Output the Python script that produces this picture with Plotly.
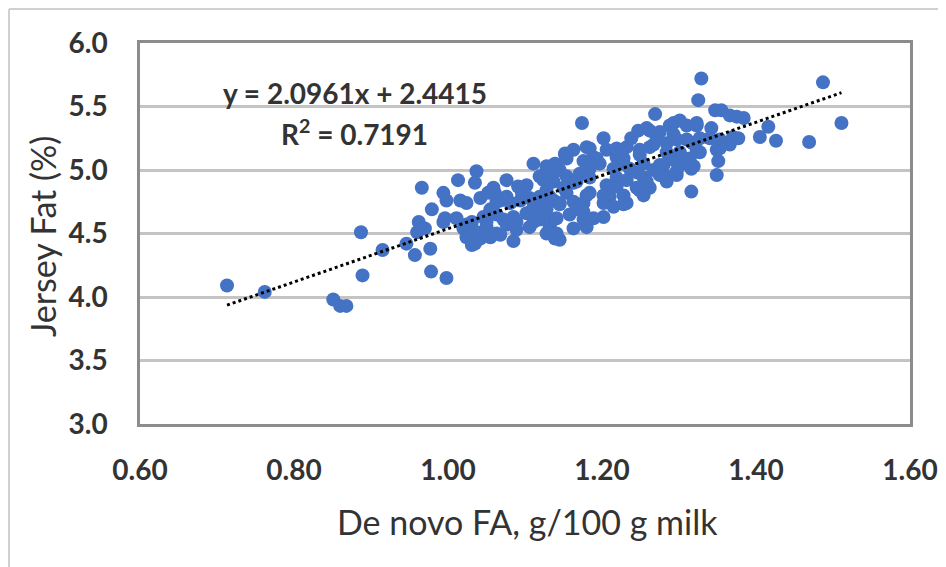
import plotly.graph_objects as go

# ---- data ----
denovo_fa = [
    0.713, 0.762, 0.851, 0.860, 0.868, 0.887, 0.889, 0.915, 0.946, 0.957, 0.960, 0.962,
    0.978, 0.998,
    0.977, 0.966, 0.970, 0.979, 0.994, 0.998, 0.994, 1.013, 1.037, 1.035, 1.016, 1.024,
    1.031, 1.020, 1.024, 1.035, 1.037, 1.046, 1.055, 1.061, 1.068, 1.076, 1.050, 1.063,
    1.055, 1.072, 1.085, 1.085, 1.081, 1.094, 1.102, 1.111, 1.119, 1.128, 1.137, 1.102,
    1.111, 1.119, 1.128, 1.137, 1.106, 1.119, 1.132, 1.139, 1.128, 1.089,
    1.174, 1.202, 1.269, 1.262, 1.271, 1.293, 1.310, 1.323, 1.163, 1.152, 1.180, 1.189,
    1.206, 1.219, 1.232, 1.238, 1.247, 1.249, 1.262, 1.284, 1.297, 1.310, 1.318, 1.128,
    1.137, 1.145, 1.124, 1.137, 1.154, 1.171, 1.184, 1.197, 1.215, 1.228, 1.236, 1.254,
    1.267, 1.280, 1.293, 1.306, 1.316, 1.284, 1.297, 1.316, 1.258, 1.249, 1.262, 1.232,
    1.219, 1.228, 1.232, 1.206, 1.210, 1.202, 1.215, 1.202, 1.184, 1.176, 1.167, 1.176,
    1.180, 1.163, 1.154, 1.145, 1.132, 1.128, 1.137, 1.141, 1.145,
    1.329, 1.487, 1.511, 1.325, 1.347, 1.355, 1.366, 1.375, 1.384, 1.416, 1.405, 1.426,
    1.469, 1.323, 1.342, 1.340, 1.353, 1.370, 1.377, 1.349, 1.366, 1.323, 1.319, 1.351,
    1.042, 1.052, 1.059, 1.063, 1.076, 1.091, 1.106, 1.011, 1.024, 1.031, 1.042, 1.050,
    1.063, 1.068, 1.076, 1.089, 1.111, 1.119, 1.124, 0.996,
    1.184, 1.219, 1.154, 1.176, 1.193, 1.228, 1.249, 1.150, 1.167, 1.184, 1.219, 1.254,
    1.145, 1.163, 1.180, 1.202, 1.245, 1.124, 1.141, 1.158, 1.176, 1.189, 1.228, 1.163,
    1.301, 1.288, 1.258, 1.275, 1.293, 1.327, 1.267, 1.284, 1.301, 1.353, 1.275, 1.314,
    1.327, 1.349, 1.275, 1.297, 1.284, 1.254, 1.246,
    1.139, 1.152, 1.096, 1.130,
]
jersey_fat = [
    4.09, 4.04, 3.98, 3.93, 3.93, 4.51, 4.17, 4.37, 4.42, 4.33, 4.51, 4.59,
    4.20, 4.15,
    4.38, 4.86, 4.54, 4.69, 4.82, 4.76, 4.59, 4.92, 4.99, 4.90, 4.76, 4.74,
    4.59, 4.54, 4.47, 4.42, 4.51, 4.63, 4.69, 4.82, 4.76, 4.92, 4.55, 4.50,
    4.47, 4.61, 4.63, 4.44, 4.74, 4.76, 4.88, 5.05, 4.95, 5.03, 4.97, 4.66,
    4.71, 4.79, 4.84, 4.76, 4.55, 4.61, 4.55, 4.46, 4.50, 4.53,
    5.37, 5.25, 5.44, 5.31, 5.26, 5.37, 5.35, 5.37, 5.16, 5.12, 5.18, 5.10,
    5.16, 5.10, 5.18, 5.25, 5.31, 5.16, 5.18, 5.21, 5.24, 5.24, 5.21, 5.01,
    5.04, 5.00, 4.92, 4.91, 4.95, 4.97, 5.01, 5.05, 5.01, 5.05, 5.01, 5.05,
    5.00, 5.04, 5.08, 5.05, 5.01, 4.95, 4.96, 4.83, 4.91, 4.84, 4.86, 4.92,
    4.87, 4.80, 4.74, 4.88, 4.79, 4.74, 4.71, 4.63, 4.82, 4.74, 4.69, 4.61,
    4.55, 4.90, 4.82, 4.74, 4.79, 4.69, 4.61, 4.50, 4.45,
    5.72, 5.69, 5.37, 5.55, 5.47, 5.47, 5.43, 5.42, 5.41, 5.34, 5.26, 5.23,
    5.22, 5.35, 5.33, 5.25, 5.24, 5.26, 5.25, 5.16, 5.20, 5.16, 5.03, 5.07,
    4.78, 4.82, 4.86, 4.75, 4.79, 4.87, 4.78, 4.62, 4.57, 4.41, 4.46, 4.59,
    4.65, 4.49, 4.57, 4.59, 4.59, 4.65, 4.73, 4.62,
    5.17, 5.17, 5.09, 5.07, 5.09, 5.09, 5.12, 4.86, 4.91, 4.94, 4.94, 4.94,
    4.73, 4.75, 4.80, 4.80, 4.86, 4.65, 4.62, 4.65, 4.67, 4.62, 4.73, 4.54,
    5.39, 5.35, 5.33, 5.30, 5.28, 5.25, 5.20, 5.14, 5.14, 5.17, 5.04, 5.09,
    5.14, 4.96, 4.96, 4.99, 4.91, 4.80, 4.98,
    5.05, 5.13, 4.82, 4.90,
]

trend_slope = 2.0961
trend_intercept = 2.4415
r_squared = 0.7191
trend_x = [0.713, 1.511]

x_ticks = [0.6, 0.8, 1.0, 1.2, 1.4, 1.6]
x_tick_labels = ["0.60", "0.80", "1.00", "1.20", "1.40", "1.60"]
y_ticks = [3.0, 3.5, 4.0, 4.5, 5.0, 5.5, 6.0]
y_tick_labels = ["3.0", "3.5", "4.0", "4.5", "5.0", "5.5", "6.0"]

# ---- figure ----
FONT = "Lato, 'Open Sans', sans-serif"
TXT = "#333333"

fig = go.Figure()
fig.add_trace(go.Scatter(
    x=denovo_fa, y=jersey_fat, mode="markers",
    marker=dict(color="#4472C4", size=14, line=dict(width=0)),
    showlegend=False, hoverinfo="x+y",
))
trend_y = [trend_slope * v + trend_intercept for v in trend_x]
fig.add_trace(go.Scatter(
    x=trend_x, y=trend_y, mode="lines",
    line=dict(color="black", width=3, dash="dot"),
    showlegend=False, hoverinfo="skip",
))

# the page places the figure 8px from the window's top-left corner
OFF = 8
W, H = 946, 567
# wanted plot box on screen: x 140..910, y 43..424
L = 140 - OFF
T = 43 - OFF
R = W - (910 - OFF)
B = H - (424 - OFF)
PW, PH = W - L - R, H - T - B


def px(sx):
    return (sx - OFF - L) / PW


def py(sy):
    return (H - B - (sy - OFF)) / PH


fig.update_layout(
    width=W, height=H,
    margin=dict(l=L, r=R, t=T, b=B, pad=0),
    paper_bgcolor="white", plot_bgcolor="white",
    font=dict(family=FONT, color=TXT),
    xaxis=dict(
        range=[0.6, 1.6], tickvals=x_ticks, ticktext=x_tick_labels,
        showgrid=False, zeroline=False, automargin=False,
        showline=True, linecolor="#8c8c8c", linewidth=2.5, mirror=True,
        ticks="", ticklabelstandoff=20,
        tickfont=dict(family=FONT, size=28, color=TXT, weight="bold"),
    ),
    yaxis=dict(
        range=[3.0, 6.0], tickvals=y_ticks, ticktext=y_tick_labels,
        showgrid=True, gridcolor="#c4c4c4", gridwidth=2.5, zeroline=False,
        automargin=False,
        showline=True, linecolor="#8c8c8c", linewidth=2.5, mirror=True,
        ticks="", ticklabelstandoff=24,
        tickfont=dict(family=FONT, size=28, color=TXT, weight="bold"),
    ),
    annotations=[
        dict(text="De novo FA, g/100 g milk", xref="paper", yref="paper",
             x=px(527), y=py(521), xanchor="center", yanchor="middle",
             showarrow=False, font=dict(family=FONT, size=34, color=TXT)),
        dict(text="Jersey Fat (%)", xref="paper", yref="paper",
             x=px(42), y=py(237), xanchor="center", yanchor="middle",
             textangle=-90, showarrow=False, font=dict(family=FONT, size=34, color=TXT)),
        dict(text=f"y = {trend_slope:.4f}x + {trend_intercept:.4f}", xref="x", yref="y",
             x=0.879, y=5.606, xanchor="center", yanchor="middle", showarrow=False,
             font=dict(family=FONT, size=28, color=TXT, weight="bold")),
        dict(text=f"R<sup>2</sup> = {r_squared:.4f}", xref="x", yref="y",
             x=0.879, y=5.299, xanchor="center", yanchor="middle", showarrow=False,
             font=dict(family=FONT, size=28, color=TXT, weight="bold")),
    ],
    shapes=[
        dict(type="line", xref="paper", yref="paper",
             x0=px(9), x1=px(9), y0=py(9), y1=py(580),
             line=dict(color="#d0d0d0", width=2)),
        dict(type="line", xref="paper", yref="paper",
             x0=px(9), x1=px(960), y0=py(9), y1=py(9),
             line=dict(color="#d0d0d0", width=2)),
    ],
)

fig.write_html("out.html")
